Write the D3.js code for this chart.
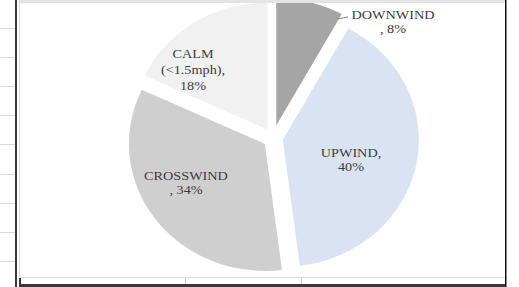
<!DOCTYPE html>
<html><head><meta charset="utf-8">
<script src="https://cdn.jsdelivr.net/npm/d3@7/dist/d3.min.js"></script>
<style>html,body{margin:0;padding:0;background:#fff;overflow:hidden}</style>
</head><body>
<svg id="c" width="519" height="287"></svg>
<script>
// ---- data ----
const categories = ["DOWNWIND", "UPWIND", "CROSSWIND", "CALM"];
const values = [8, 40, 34, 18];
const labelLines = [["DOWNWIND", ", 8%"], ["UPWIND,", "40%"], ["CROSSWIND", ", 34%"], ["CALM", "(<1.5mph),", "18%"]];

// ---- layout / style ----
const colors = ["#a5a5a5", "#dae3f3", "#d0cfcf", "#f1f1f1"];
const explode = [13, 10, 10, 10];
const labelPos = [[393, 19], [351, 157], [186, 180], [193, 58]];
const W = 519, H = 287;
const cx = 273, cy = 138, R = 127, sx = 136 / 127;

const svg = d3.select("#c");

// spreadsheet background strip on the left
const rowYs = d3.range(28, 270, 29.1);
svg.selectAll("line.row").data(rowYs).join("line")
  .attr("x1", 0).attr("x2", 15).attr("y1", d => Math.round(d) + 0.5).attr("y2", d => Math.round(d) + 0.5)
  .attr("stroke", "#d9d9d9").attr("stroke-width", 1);
svg.append("rect").attr("x", 15).attr("y", 0).attr("width", 2).attr("height", H).attr("fill", "#3a3a3a");

// chart area frame
svg.append("rect").attr("x", 19).attr("y", 0).attr("width", 487).attr("height", 3).attr("fill", "#e4e4e4");
svg.append("line").attr("x1", 19.5).attr("x2", 19.5).attr("y1", 0).attr("y2", 277).attr("stroke", "#dcdcdc");
svg.append("line").attr("x1", 19).attr("x2", 506).attr("y1", 277.5).attr("y2", 277.5).attr("stroke", "#dcdcdc");
// bottom spreadsheet row
[185, 301].forEach(x => svg.append("line").attr("x1", x + 0.5).attr("x2", x + 0.5).attr("y1", 278).attr("y2", 284).attr("stroke", "#d0d0d0"));
svg.append("rect").attr("x", 19).attr("y", 278).attr("width", 2).attr("height", 7).attr("fill", "#333");
svg.append("rect").attr("x", 19).attr("y", 284).attr("width", 487).attr("height", 3).attr("fill", "#3a3a3a");
svg.append("rect").attr("x", 505).attr("y", 0).attr("width", 1.5).attr("height", H).attr("fill", "#111");

// clip for the plot area
svg.append("clipPath").attr("id", "clip").append("rect")
  .attr("x", 20).attr("y", 3).attr("width", 485).attr("height", 274);

const pie = d3.pie().sort(null).startAngle(0).endAngle(2 * Math.PI);
const arcs = pie(values);
const arc = d3.arc().innerRadius(0).outerRadius(R);

const g = svg.append("g").attr("clip-path", "url(#clip)");
arcs.forEach((a, i) => {
  const mid = (a.startAngle + a.endAngle) / 2;
  const ox = explode[i] * Math.sin(mid), oy = -explode[i] * Math.cos(mid);
  a.ox = cx + ox; a.oy = cy + oy;
  g.append("path")
    .attr("transform", `translate(${a.ox},${a.oy}) scale(${sx},1)`)
    .attr("d", arc(a))
    .attr("fill", colors[i]);
});

// leader line for the outside label (DOWNWIND)
{
  const a = arcs[0];
  const ang = a.endAngle * 0.93;
  const px = a.ox + R * sx * Math.sin(ang), py = a.oy - R * Math.cos(ang);
  svg.append("path")
    .attr("d", `M${Math.max(px, 336)},${Math.max(py, 19)}L348,17`)
    .attr("stroke", "#808080").attr("stroke-width", 1).attr("fill", "none");
}

// labels (slightly stretched horizontally like the reference)
const lineH = 14.5, tsx = 1.07;
labelLines.forEach((lines, i) => {
  const [lx, ly] = labelPos[i];
  const t = svg.append("text")
    .attr("transform", `translate(${lx},${ly}) scale(${tsx},1)`)
    .attr("text-anchor", "middle")
    .attr("font-family", "'Liberation Serif','Times New Roman',serif")
    .attr("font-size", 13.3).attr("fill", "#3d3d3d");
  lines.forEach((s, j) => {
    t.append("tspan").attr("x", 0).attr("dy", j === 0 ? 0 : (i === 3 ? 16 : lineH)).text(s);
  });
});
</script>
</body></html>
